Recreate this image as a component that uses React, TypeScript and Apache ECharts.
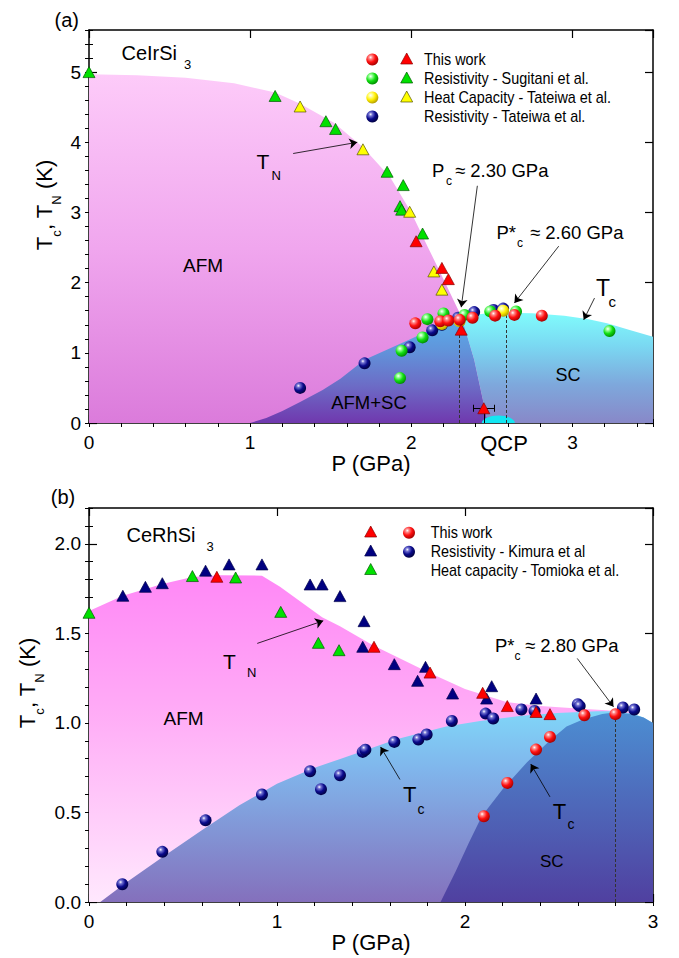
import React, { useEffect, useRef } from 'react';
import * as echarts from 'echarts';

const FONT = 'Liberation Sans, Arial, sans-serif';

// ---------------- Panel (a): CeIrSi3 ----------------
const aXMax = 3.5;
const aYMax = 5.6;
const aThisWorkCircles = [[2.025, 1.42], [2.18, 1.45], [2.23, 1.46], [2.30, 1.47], [2.38, 1.50], [2.52, 1.53], [2.64, 1.54], [2.81, 1.53]];
const aThisWorkTriangles = [[2.03, 2.59], [2.19, 2.21], [2.23, 2.05], [2.31, 1.33], [2.45, 0.21]];
const aSugitaniCircles = [[1.93, 0.64], [1.94, 1.03], [2.07, 1.22], [2.10, 1.48], [2.20, 1.56], [2.33, 1.54], [2.49, 1.59], [2.65, 1.59], [3.23, 1.31]];
const aSugitaniTriangles = [[0, 5.0], [1.155, 4.66], [1.47, 4.3], [1.53, 4.19], [1.85, 3.58], [1.95, 3.39], [1.93, 3.09], [1.94, 3.04], [2.07, 2.7]];
const aHeatCapCircles = [[2.19, 1.41], [2.30, 1.45], [2.57, 1.60]];
const aHeatCapTriangles = [[1.31, 4.51], [1.70, 3.9], [1.99, 3.01], [2.14, 2.16], [2.19, 1.9]];
const aTateiwaResCircles = [[1.31, 0.50], [1.71, 0.85], [1.99, 1.08], [2.13, 1.32], [2.19, 1.40], [2.29, 1.50], [2.39, 1.58], [2.51, 1.61], [2.57, 1.63]];
// region outlines (a)
const aAFMRegion = [[0, 0], [0, 4.97], [0.3, 4.955], [0.6, 4.92], [0.9, 4.84], [1.155, 4.71], [1.31, 4.55], [1.52, 4.28], [1.7, 3.93], [1.87, 3.5], [2.0, 3.0], [2.1, 2.52], [2.2, 2.05], [2.31, 1.52], [2.39, 0.9], [2.475, 0]];
const aAFMSCRegion = [[1.0, 0], [1.1, 0.07], [1.2, 0.17], [1.31, 0.3], [1.45, 0.47], [1.56, 0.63], [1.71, 0.9], [1.99, 1.19], [2.15, 1.36], [2.31, 1.52], [2.39, 0.9], [2.475, 0]];
const aSCRegion = [[2.31, 1.52], [2.45, 1.555], [2.6, 1.57], [2.75, 1.565], [2.95, 1.53], [3.1, 1.48], [3.215, 1.42], [3.35, 1.33], [3.5, 1.23], [3.5, 0], [2.475, 0], [2.39, 0.9]];
const aQCP = [2.54, 0];
const aDashed = [[[2.30, 0], [2.30, 1.30]], [[2.59, 0], [2.59, 1.56]]];
const aArrows = [[[1.267, 3.84], [1.665, 4.0]], [[2.41, 3.38], [2.31, 1.65]], [[2.915, 2.52], [2.64, 1.71]], [[3.137, 1.78], [3.07, 1.47]]];
const aErrorBar = [[[2.385, 0.21], [2.515, 0.21]], [[2.385, 0.16], [2.385, 0.26]], [[2.515, 0.16], [2.515, 0.26]], [[2.45, 0.21], [2.45, 0]]];

// ---------------- Panel (b): CeRhSi3 ----------------
const bXMax = 3;
const bYMax = 2.2;
const bThisWorkTriangles = [[0.68, 1.816], [1.516, 1.425], [1.814, 1.281], [2.094, 1.168], [2.225, 1.094], [2.378, 1.061], [2.452, 1.049]];
const bThisWorkCircles = [[2.10, 0.479], [2.225, 0.665], [2.378, 0.851], [2.452, 0.922], [2.635, 1.043], [2.80, 1.049]];
const bKimuraTriangles = [[0.18, 1.71], [0.30, 1.76], [0.39, 1.78], [0.62, 1.85], [0.745, 1.885], [0.92, 1.885], [1.176, 1.773], [1.24, 1.773], [1.335, 1.708], [1.463, 1.568], [1.456, 1.425], [1.624, 1.328], [1.79, 1.313], [1.748, 1.235], [1.934, 1.164], [2.142, 1.205], [2.115, 1.136], [2.378, 1.136]];
const bKimuraCircles = [[0.177, 0.099], [0.39, 0.28], [0.62, 0.456], [0.92, 0.60], [1.176, 0.73], [1.234, 0.63], [1.335, 0.708], [1.456, 0.838], [1.47, 0.85], [1.624, 0.894], [1.752, 0.907], [1.796, 0.935], [1.93, 1.011], [2.11, 1.052], [2.15, 1.025], [2.30, 1.075], [2.37, 1.067], [2.60, 1.104], [2.61, 1.094], [2.84, 1.086], [2.90, 1.075]];
const bTomiokaTriangles = [[0, 1.615], [0.55, 1.82], [0.78, 1.812], [1.02, 1.62], [1.22, 1.447], [1.33, 1.406]];
// region outlines (b)
const bAFMRegion = [[0, 0], [0, 1.625], [0.18, 1.71], [0.39, 1.775], [0.55, 1.815], [0.7, 1.825], [0.92, 1.822], [1.016, 1.76], [1.24, 1.59], [1.335, 1.54], [1.51, 1.434], [1.81, 1.28], [2.0, 1.19], [2.22, 1.117], [2.4, 1.095], [2.6, 1.08], [2.75, 1.07], [2.88, 1.06], [2.88, 0]];
const bSC1Region = [[0.06, 0], [0.2, 0.11], [0.39, 0.25], [0.6, 0.4], [0.8, 0.54], [1.0, 0.66], [1.2, 0.75], [1.34, 0.8], [1.64, 0.91], [1.9, 0.98], [2.08, 1.01], [2.3, 1.04], [2.49, 1.055], [2.7, 1.065], [2.81, 1.065], [2.9, 1.05], [2.95, 1.03], [3.0, 1.0], [3.0, 0]];
const bSC2Region = [[1.87, 0], [1.95, 0.17], [2.02, 0.33], [2.09, 0.48], [2.2, 0.63], [2.33, 0.78], [2.45, 0.9], [2.54, 0.98], [2.63, 1.02], [2.73, 1.05], [2.8, 1.06], [2.88, 1.05], [2.95, 1.03], [3.0, 1.0], [3.0, 0]];
const bDashed = [[[2.8, 0], [2.8, 1.05]]];
const bArrows = [[[0.895, 1.444], [1.246, 1.570]], [[2.597, 1.36], [2.79, 1.09]], [[1.654, 0.684], [1.551, 0.866]], [[2.452, 0.587], [2.35, 0.77]]];

// ---------------- styles ----------------
function sphere(base: string, light: string, dark: string) {
  return {
    type: 'radial', x: 0.36, y: 0.32, r: 0.72,
    colorStops: [
      { offset: 0, color: '#ffffff' },
      { offset: 0.2, color: light },
      { offset: 0.55, color: base },
      { offset: 1, color: dark },
    ],
  };
}
const RED = sphere('#ff1010', '#ff8a8a', '#a00000');
const GREEN = sphere('#12e012', '#9aff9a', '#008800');
const YELLOW = sphere('#ffee00', '#ffff9a', '#b09a00');
const NAVY = sphere('#0a0a8c', '#7474d4', '#00003c');
const TRI = {
  red: ['#ff0000', '#8a0000'],
  green: ['#00e000', '#005a00'],
  yellow: ['#ffff00', '#555500'],
  navy: ['#000080', '#00004a'],
};

function lg(stops: [number, string][]) {
  return new echarts.graphic.LinearGradient(0, 0, 0, 1, stops.map(([o, c]) => ({ offset: o, color: c })));
}

function region(gi: number, pts: number[][], fill: any, z: number) {
  return {
    type: 'custom', coordinateSystem: 'cartesian2d', xAxisIndex: gi * 4, yAxisIndex: gi * 4,
    silent: true, z, clip: true, data: [[0, 0]],
    renderItem: (_p: any, api: any) => ({
      type: 'polygon',
      shape: { points: pts.map((p) => api.coord(p)) },
      style: { fill },
    }),
  };
}

function circles(gi: number, data: number[][], color: any, z: number) {
  return {
    type: 'scatter', xAxisIndex: gi * 4, yAxisIndex: gi * 4, data, symbol: 'circle', symbolSize: 12,
    itemStyle: { color, borderWidth: 0, opacity: 1 }, z, silent: true,
  };
}
function triangles(gi: number, data: number[][], c: string[], z: number) {
  return {
    type: 'scatter', xAxisIndex: gi * 4, yAxisIndex: gi * 4, data, symbol: 'triangle', symbolSize: [12, 11],
    itemStyle: { color: c[0], borderColor: c[1], borderWidth: 0.7, opacity: 1 }, z, silent: true,
  };
}
function lines(gi: number, segs: number[][][], opts: any, z: number) {
  return {
    type: 'scatter', xAxisIndex: gi * 4, yAxisIndex: gi * 4, data: [], z, silent: true,
    markLine: {
      silent: true, animation: false,
      symbol: opts.arrow ? ['none', 'arrow'] : ['none', 'none'],
      symbolSize: 8,
      label: { show: false },
      lineStyle: { color: opts.color || '#000', width: opts.width || 0.9, type: opts.type || 'solid' },
      emphasis: { disabled: true },
      data: segs.map((s) => [{ coord: s[0] }, { coord: s[1] }]),
    },
  };
}

function xAxes(gi: number, max: number) {
  const line = { show: true, onZero: false, lineStyle: { color: '#000', width: 1.5 } };
  const common = { gridIndex: gi, type: 'value', min: 0, max, splitLine: { show: false } };
  return [
    {
      ...common, interval: 1, position: 'bottom', axisLine: line,
      axisTick: { show: true, inside: true, length: 8, lineStyle: { color: '#000', width: 1.2 } },
      axisLabel: { show: true, color: '#000', fontSize: 19, fontFamily: FONT, margin: 10, showMaxLabel: max % 1 === 0 },
      name: 'P (GPa)', nameLocation: 'middle', nameGap: 27,
      nameTextStyle: { color: '#000', fontSize: 22, fontFamily: FONT },
    },
    {
      ...common, interval: 0.2, position: 'bottom', axisLine: { show: false },
      axisTick: { show: true, inside: true, length: 4, lineStyle: { color: '#000', width: 1 } },
      axisLabel: { show: false },
    },
    {
      ...common, interval: 1, position: 'top', axisLine: line,
      axisTick: { show: true, inside: true, length: 8, lineStyle: { color: '#000', width: 1.2 } },
      axisLabel: { show: false },
    },
    {
      ...common, interval: 0.2, position: 'top', axisLine: { show: false },
      axisTick: { show: true, inside: true, length: 4, lineStyle: { color: '#000', width: 1 } },
      axisLabel: { show: false },
    },
  ];
}
function yAxes(gi: number, max: number, major: number, minor: number, digits: number) {
  const line = { show: true, onZero: false, lineStyle: { color: '#000', width: 1.5 } };
  const common = { gridIndex: gi, type: 'value', min: 0, max, splitLine: { show: false } };
  return [
    {
      ...common, interval: major, position: 'left', axisLine: line,
      axisTick: { show: true, inside: true, length: 8, lineStyle: { color: '#000', width: 1.2 } },
      axisLabel: {
        show: true, color: '#000', fontSize: 19, fontFamily: FONT, margin: 8, showMaxLabel: false,
        formatter: (v: number) => v.toFixed(digits),
      },
    },
    {
      ...common, interval: minor, position: 'left', axisLine: { show: false },
      axisTick: { show: true, inside: true, length: 4, lineStyle: { color: '#000', width: 1 } },
      axisLabel: { show: false },
    },
    {
      ...common, interval: major, position: 'right', axisLine: line,
      axisTick: { show: true, inside: true, length: 8, lineStyle: { color: '#000', width: 1.2 } },
      axisLabel: { show: false },
    },
    {
      ...common, interval: minor, position: 'right', axisLine: { show: false },
      axisTick: { show: true, inside: true, length: 4, lineStyle: { color: '#000', width: 1 } },
      axisLabel: { show: false },
    },
  ];
}

function txt(x: number, y: number, text: string, fs: number, align = 'left', scaleX = 1) {
  return {
    type: 'text', x, y, scaleX, z: 50, silent: true,
    style: {
      text, fontSize: fs, fontFamily: FONT, fill: '#000',
      align, verticalAlign: 'middle', textAlign: align, textVerticalAlign: 'middle',
    },
  };
}
function yTitle(x: number, y: number) {
  return {
    type: 'text', x, y, rotation: Math.PI / 2, z: 50, silent: true,
    style: {
      text: '{m|T}{s|c}{m|, T}{s|N}{m| (K)}',
      fill: '#000', align: 'center', verticalAlign: 'middle', textAlign: 'center', textVerticalAlign: 'middle',
      rich: {
        m: { fontSize: 22, fontFamily: FONT, lineHeight: 37, verticalAlign: 'middle', fill: '#000' },
        s: { fontSize: 13, fontFamily: FONT, lineHeight: 13, verticalAlign: 'bottom', fill: '#000' },
      },
    },
  };
}
function legendCircle(x: number, y: number, fill: any) {
  return { type: 'circle', z: 50, silent: true, shape: { cx: x, cy: y, r: 6 }, style: { fill } };
}
function legendTri(x: number, y: number, c: string[]) {
  return {
    type: 'polygon', z: 50, silent: true,
    shape: { points: [[x - 6, y + 5], [x + 6, y + 5], [x, y - 6]] },
    style: { fill: c[0], stroke: c[1], lineWidth: 0.7 },
  };
}

function buildOption() {
  const legendFs = 16;
  const legendScale = 0.9;
  const graphic: any[] = [
    // panel (a)
    txt(66.7, 20, '(a)', 20, 'center'),
    txt(121.5, 53, 'CeIrSi', 20), txt(184, 64, '3', 13),
    yTitle(44, 205),
    legendCircle(372.3, 59.5, RED), legendTri(406.7, 59, TRI.red), txt(424, 59.5, 'This work', legendFs, 'left', legendScale),
    legendCircle(372.3, 78.5, GREEN), legendTri(406.7, 78, TRI.green), txt(424, 78.5, 'Resistivity - Sugitani et al.', legendFs, 'left', legendScale),
    legendCircle(372.3, 97.5, YELLOW), legendTri(406.7, 97, TRI.yellow), txt(424, 97.5, 'Heat Capacity - Tateiwa et al.', legendFs, 'left', legendScale),
    legendCircle(372.3, 116.5, NAVY), txt(424, 116.5, 'Resistivity - Tateiwa et al.', legendFs, 'left', legendScale),
    txt(256.5, 161, 'T', 21), txt(271.5, 175, 'N', 13),
    txt(432, 170, 'P', 18.5), txt(446, 181, 'c', 12), txt(455, 170, '≈ 2.30 GPa', 18.5),
    txt(496.5, 232, 'P*', 18.5), txt(517, 243, 'c', 12), txt(530, 232, '≈ 2.60 GPa', 18.5),
    txt(596, 288, 'T', 23), txt(608.5, 301, 'c', 15),
    txt(203, 265, 'AFM', 19, 'center'),
    txt(369, 402.7, 'AFM+SC', 18.5, 'center'),
    txt(568, 375, 'SC', 18, 'center'),
    txt(504, 443, 'QCP', 22, 'center'),
    // panel (b)
    txt(63, 497, '(b)', 20, 'center'),
    txt(126.5, 534.7, 'CeRhSi', 20), txt(206.5, 546, '3', 13),
    yTitle(27, 683),
    legendTri(370.7, 532, TRI.red), legendCircle(409, 532.7, RED), txt(430.7, 532.7, 'This work', legendFs, 'left', legendScale),
    legendTri(370.7, 551, TRI.navy), legendCircle(409, 551.7, NAVY), txt(430.7, 551.7, 'Resistivity - Kimura et al', legendFs, 'left', legendScale),
    legendTri(370.7, 569.5, TRI.green), txt(430.7, 570, 'Heat capacity - Tomioka et al.', legendFs, 'left', legendScale),
    txt(223, 661.7, 'T', 21), txt(247, 672, 'N', 13),
    txt(495, 645, 'P*', 18.5), txt(514.5, 656, 'c', 12), txt(525, 645, '≈ 2.80 GPa', 18.5),
    txt(403, 794, 'T', 22), txt(417.5, 809, 'c', 14),
    txt(552.7, 811, 'T', 22), txt(567.5, 824, 'c', 14),
    txt(183.5, 718.3, 'AFM', 19, 'center'),
    txt(551.7, 861.7, 'SC', 17, 'center'),
  ];

  const qcpSeries = {
    type: 'custom', coordinateSystem: 'cartesian2d', xAxisIndex: 0, yAxisIndex: 0, silent: true, z: 2,
    clip: true, data: [aQCP],
    renderItem: (_p: any, api: any) => {
      const c = api.coord([api.value(0), api.value(1)]);
      return {
        type: 'sector', x: c[0], y: c[1], scaleY: 0.45,
        shape: { cx: 0, cy: 0, r: 16.5, r0: 0, startAngle: Math.PI, endAngle: Math.PI * 2 },
        style: { fill: '#12e6f2' },
      };
    },
  };

  const series: any[] = [
    // (a) regions
    region(0, aAFMRegion, lg([[0, '#fdcbf9'], [0.5, '#f0a6ee'], [1, '#db7bdb']]), 1),
    region(0, aSCRegion, lg([[0, '#80fcfc'], [0.3, '#7ad8f2'], [0.65, '#7ea8dc'], [1, '#8888c8']]), 1),
    region(0, aAFMSCRegion, lg([[0, '#58b0ec'], [0.3, '#6096dc'], [0.65, '#6c6cc6'], [1, '#7038ae']]), 1),
    qcpSeries,
    lines(0, aDashed, { type: [3, 2], color: '#333', width: 1 }, 3),
    lines(0, aArrows, { arrow: true, width: 0.8 }, 3),
    lines(0, aErrorBar, { width: 1 }, 3),
    circles(0, aTateiwaResCircles, NAVY, 4),
    circles(0, aHeatCapCircles, YELLOW, 5),
    circles(0, aSugitaniCircles, GREEN, 6),
    circles(0, aThisWorkCircles, RED, 7),
    triangles(0, aSugitaniTriangles, TRI.green, 8),
    triangles(0, aHeatCapTriangles, TRI.yellow, 9),
    triangles(0, aThisWorkTriangles, TRI.red, 10),
    // (b) regions
    region(1, bAFMRegion, lg([[0, '#ff88f6'], [0.4, '#ffaaf6'], [1, '#ffe8fd']]), 1),
    region(1, bSC1Region, lg([[0, '#80d6f8'], [0.3, '#80b6ec'], [1, '#8470bc']]), 1),
    region(1, bSC2Region, lg([[0, '#4c8ed2'], [1, '#5040a0']]), 1),
    lines(1, bDashed, { type: [3, 2], color: '#333', width: 1 }, 3),
    lines(1, bArrows, { arrow: true, width: 0.8 }, 3),
    triangles(1, bKimuraTriangles, TRI.navy, 4),
    triangles(1, bTomiokaTriangles, TRI.green, 5),
    circles(1, bKimuraCircles, NAVY, 6),
    triangles(1, bThisWorkTriangles, TRI.red, 7),
    circles(1, bThisWorkCircles, RED, 8),
  ];

  return {
    animation: false,
    backgroundColor: '#ffffff',
    textStyle: { fontFamily: FONT },
    grid: [
      { left: 89, top: 30, width: 564, height: 393 },
      { left: 89, top: 508, width: 564, height: 394 },
    ],
    xAxis: [...xAxes(0, aXMax), ...xAxes(1, bXMax)],
    yAxis: [...yAxes(0, aYMax, 1, 0.2, 0), ...yAxes(1, bYMax, 0.5, 0.1, 1)],
    series,
    graphic,
  };
}

export default function App() {
  const ref = useRef<HTMLDivElement>(null);
  useEffect(() => {
    if (!ref.current) return;
    const chart = echarts.init(ref.current, null, { renderer: 'svg' });
    chart.setOption(buildOption() as any);
    return () => chart.dispose();
  }, []);
  return (
    <div
      ref={ref}
      style={{ position: 'absolute', left: 0, top: 0, width: 679, height: 958, background: '#fff' }}
    />
  );
}
